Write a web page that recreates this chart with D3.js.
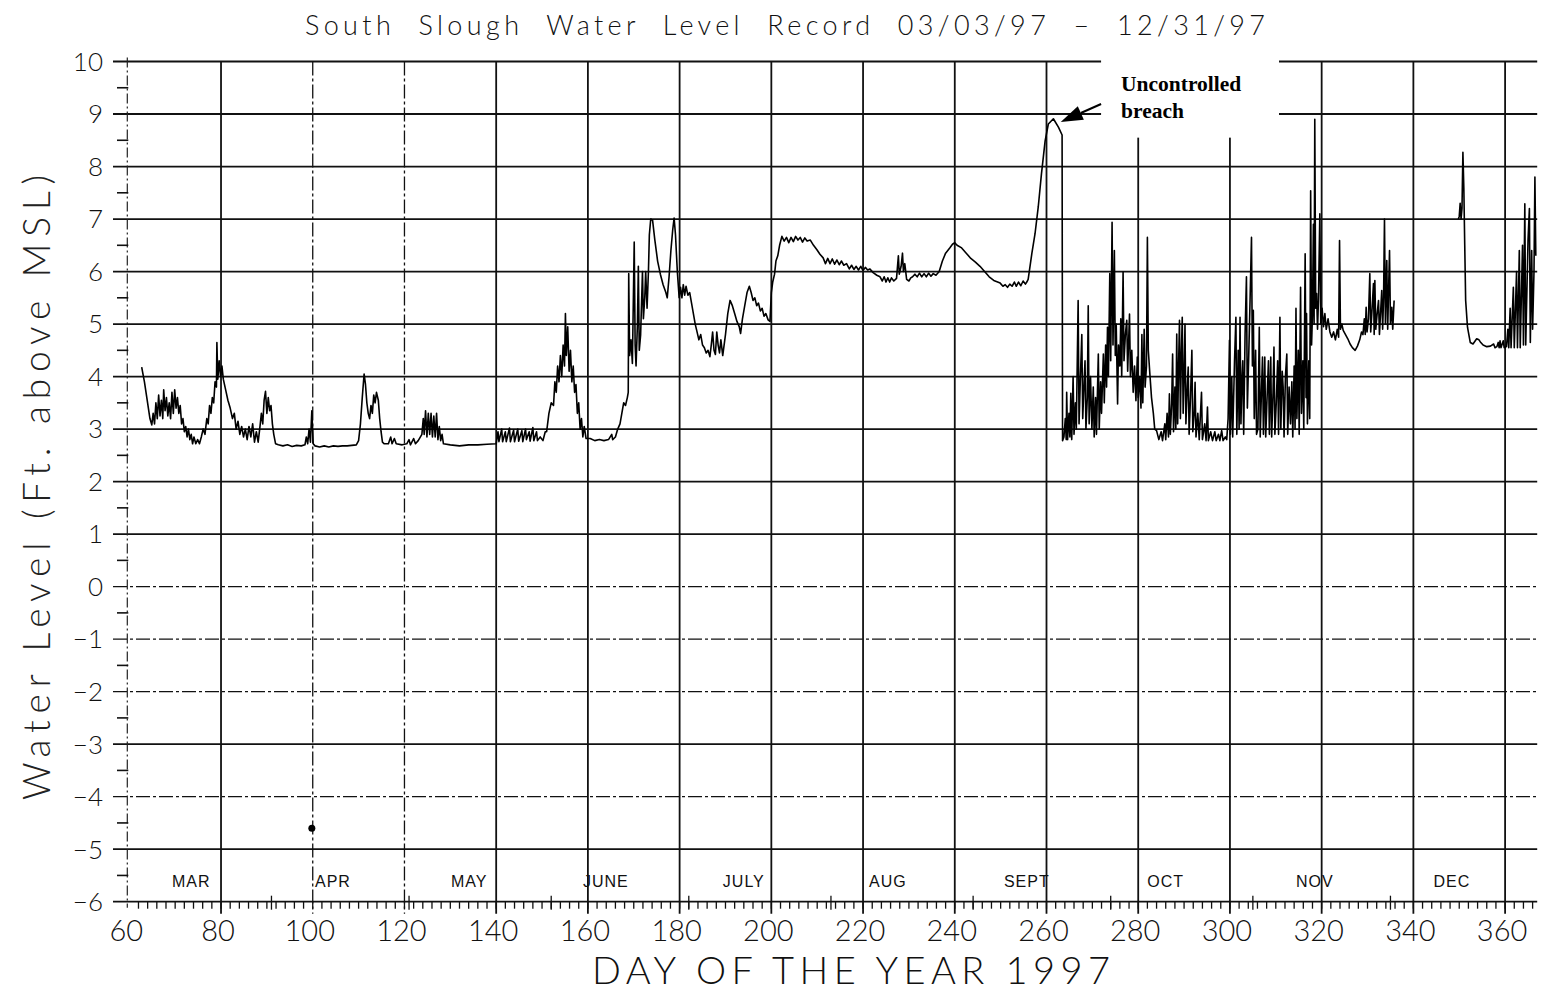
<!DOCTYPE html>
<html><head><meta charset="utf-8">
<script src="https://cdn.jsdelivr.net/npm/d3@7"></script>
<style>html,body{margin:0;padding:0;background:#fff;}svg{display:block;}</style>
</head><body>
<svg id="chart" width="1541" height="995"></svg>
<script>
// ---- DATA (day of year, water level ft above MSL) ----
const springLevels = [
[62.7,4.18],[63.3,3.9],[63.9,3.55],[64.5,3.2],[64.9,3.08],[65.2,3.3],[65.5,3.1],[65.8,3.5],[66.1,3.2],[66.4,3.65],[66.7,3.25],[67.0,3.55],[67.3,3.2],[67.5,3.75],[67.8,3.35],[68.1,3.6],[68.4,3.25],[68.7,3.5],[69.0,3.2],[69.3,3.7],[69.6,3.3],[69.9,3.75],[70.2,3.4],[70.5,3.6],[70.8,3.3],[71.1,3.45],[71.4,3.1],[71.7,3.2],[72.0,2.95],[72.3,3.05],[72.6,2.85],[72.9,3.0],[73.2,2.8],[73.5,2.9],[73.8,2.72],[74.1,2.85],[74.5,2.72],[74.9,2.8],[75.3,2.72],[75.7,2.85],[76.1,3.0],[76.5,2.9],[76.9,3.2],[77.2,3.1],[77.5,3.45],[77.8,3.3],[78.1,3.6],[78.4,3.5],[78.7,3.9],[79.0,3.8],[79.1,4.65],[79.3,3.95],[79.6,4.3],[79.9,4.0],[80.2,4.2],[80.5,3.95],
[81.0,3.75],[81.5,3.55],[82.0,3.4],[82.5,3.2],[82.9,3.3],[83.3,3.0],[83.7,3.15],[84.1,2.9],[84.5,3.05],[84.9,2.85],[85.3,3.0],[85.7,2.8],[86.1,3.05],[86.5,2.85],[86.9,3.1],[87.3,2.75],[87.7,2.95],[88.1,2.75],[88.5,3.05],[88.8,3.3],[89.1,3.1],[89.4,3.55],[89.7,3.72],[90.0,3.3],[90.3,3.6],[90.6,3.35],[90.9,3.45],[91.2,3.1],[91.5,2.9],[91.9,2.72],[92.5,2.7],
[93.5,2.68],[94.5,2.7],[95.5,2.67],[96.5,2.69],[97.5,2.68],[98.3,2.7],[98.6,2.85],[98.9,2.72],[99.2,3.0],[99.5,2.75],[99.8,3.35],[100.1,2.72],[100.5,2.68],[101.5,2.66],[102.5,2.68],[103.5,2.66],[104.5,2.68],[105.5,2.67],[106.5,2.68],[107.5,2.68],[108.5,2.69],[109.5,2.7],[110.0,2.78],[110.4,3.1],[110.8,3.6],[111.2,4.05],[111.5,3.85],[111.8,3.5],[112.1,3.3],[112.4,3.2],[112.7,3.45],[113.0,3.3],[113.3,3.65],[113.6,3.5],[113.9,3.7],[114.3,3.55],[114.6,3.2],[114.9,2.95],[115.2,2.75],[115.6,2.72],
[116.5,2.72],[117.0,2.85],[117.3,2.72],[117.8,2.82],[118.2,2.72],[119.5,2.7],[120.5,2.72],[121.0,2.8],[121.3,2.7],[122.0,2.82],[122.4,2.72],[123.0,2.78],
[123.8,2.9],[124.1,3.2],[124.3,2.9],[124.6,3.35],[124.9,2.85],[125.2,3.3],[125.5,2.9],[125.8,3.3],[126.1,2.85],[126.4,3.25],[126.7,2.85],[127.0,3.3],[127.3,2.8],[127.6,3.05],[127.9,2.78],[128.2,2.9],[128.5,2.72],
[130,2.7],[132,2.68],[134,2.7],[136,2.7],[138,2.71],[140,2.72],
[140.4,2.95],[140.6,2.76],[141.2,3.0],[141.4,2.76],[142.0,2.95],[142.2,2.76],[142.9,3.02],[143.1,2.76],[143.8,2.98],[144.0,2.76],[144.7,3.0],[144.9,2.77],[145.6,2.97],[145.8,2.76],[146.4,3.0],[146.6,2.8],[147.2,2.95],[147.4,2.77],[148.0,3.03],[148.2,2.78],[148.8,2.95],[149.0,2.78],[149.6,2.85],[150.2,2.78],[150.7,2.95]
];
const summerLevels = [
[151.0,2.95],[151.5,3.3],[152.0,3.5],[152.5,3.45],[152.8,3.9],[153.1,3.7],[153.4,4.2],[153.7,3.9],[154.0,4.4],[154.3,4.0],[154.6,4.6],[154.9,4.2],[155.1,5.2],[155.3,4.4],[155.6,4.95],[155.9,4.1],[156.2,4.5],[156.5,3.9],[156.8,4.2],[157.1,3.7],[157.4,3.85],[157.7,3.3],[158.0,3.5],[158.3,3.0],[158.6,3.2],[158.9,2.85],[159.2,3.05],[159.6,2.82],
[160.5,2.82],[161.5,2.78],[162.5,2.8],[163.5,2.78],[164.5,2.8],[165.2,2.9],[165.4,2.8],[166.0,2.85],[166.5,3.0],[167.0,3.1],[167.4,3.3],[167.8,3.5],[168.2,3.45],[168.6,3.6],
[168.8,3.7],[168.9,5.96],[169.1,4.4],[169.4,4.7],[169.7,4.25],[170.1,6.56],[170.3,4.6],[170.5,4.2],[170.8,5.0],[171.0,6.1],[171.2,4.5],[171.5,4.8],[171.9,6.0],[172.1,5.1],[172.4,5.5],[172.6,6.0],[172.9,5.3],[173.2,6.0],[173.4,6.7],[173.7,7.0],[174.1,6.98],
[174.6,6.6],[175.2,6.2],[175.8,5.95],[176.4,5.75],[177.0,5.6],[177.3,5.5],[177.7,5.9],[178.1,6.4],[178.5,6.8],[178.8,7.02],[179.1,6.7],[179.5,6.0],[179.9,5.5],
[180.2,5.7],[180.5,5.5],[180.8,5.75],[181.1,5.55],[181.4,5.72],[181.8,5.55],[182.2,5.6],[182.6,5.4],[183.0,5.2],[183.4,5.0],[183.8,4.85],[184.2,4.7],[184.6,4.8],[185.0,4.6],[185.4,4.55],[185.8,4.45],[186.2,4.5],[186.6,4.38],
[186.9,4.6],[187.2,4.85],[187.5,4.5],[187.8,4.42],[188.1,4.85],[188.4,4.6],[188.7,4.45],[189.0,4.7],[189.4,4.4],
[190.0,4.8],[190.5,5.2],[191.0,5.45],[191.5,5.35],[192.0,5.2],[192.5,5.05],[193.0,4.95],[193.3,4.82],[193.7,5.1],[194.2,5.35],[194.7,5.6],[195.2,5.72],[195.6,5.6],[196.0,5.45],[196.4,5.5],[196.8,5.35],[197.2,5.4],[197.6,5.25],[198.0,5.3],[198.4,5.15],[198.8,5.2],[199.3,5.08],[199.7,5.05],
[200.0,5.6],[200.3,5.8],[200.7,5.95],[201.0,6.2],[201.4,6.3],[201.8,6.5],[202.3,6.67],
[202.8,6.58],[203.3,6.65],[203.8,6.55],[204.3,6.65],[204.8,6.57],[205.3,6.67],[205.8,6.6],[206.3,6.65],[206.8,6.56],[207.3,6.64],[207.8,6.58],[208.5,6.6],
[209.2,6.5],[209.9,6.42],[210.6,6.33],[211.3,6.26],
[211.8,6.15],[212.3,6.25],[212.8,6.15],[213.3,6.24],[213.8,6.14],[214.3,6.22],[214.8,6.13],[215.3,6.2],[215.8,6.12],[216.4,6.15],
[217.0,6.05],[217.5,6.12],[218.0,6.04],[218.5,6.1],[219.0,6.03],[219.5,6.1],[220.0,6.02],[220.5,6.08],[221.0,6.03],[221.5,6.05],
[222.2,5.98],[223.0,5.93],[223.7,5.9],
[224.2,5.82],[224.6,5.9],[225.0,5.8],[225.4,5.88],[225.8,5.8],[226.2,5.88],[226.7,5.82],[227.3,5.87],
[227.7,6.3],[227.9,5.95],[228.3,6.1],[228.6,6.35],[228.8,6.0],[229.1,6.15],[229.5,5.85],
[230,5.82],[230.4,5.88],[230.8,5.9],[231.3,5.95],[231.8,5.9],[232.3,5.97],[232.8,5.9],[233.3,5.96],[233.8,5.9],[234.3,5.97],[234.8,5.91],[235.3,5.96],[235.9,5.93],
[236.6,6.0],[237.3,6.2],[238.0,6.35],[238.9,6.45],[239.5,6.52],[240.0,6.55],[240.5,6.5],
[241.5,6.45],[242.5,6.35],[243.5,6.25],[244.5,6.18],[245.5,6.1],[246.5,6.0],[247.5,5.9],[248.5,5.83],[249.9,5.78],
[250.5,5.72],[251.0,5.75],[251.5,5.7],[252.0,5.76],[252.5,5.72],[253.0,5.8],[253.4,5.72],[253.9,5.8],[254.4,5.73],[254.9,5.82],[255.4,5.76],[255.7,5.8],
[256.0,5.85],[256.8,6.34],[257.5,6.72],[258.2,7.23],[258.9,7.86],[259.7,8.49],[260.4,8.81],[261.5,8.91],[262.6,8.75],[263.3,8.62]
];
const breachLevels = [
[263.4,8.6],[263.5,2.78],[263.8,2.85],[264.1,3.2],[264.3,2.8],[264.4,3.7],[264.6,2.8],[264.9,3.3],[265.1,2.85],[265.3,3.68],[265.5,2.8],[265.8,4.0],[266.0,2.9],[266.3,3.5],[266.5,3.0],[266.9,5.45],[267.1,3.1],[267.4,4.0],[267.7,4.8],[267.9,3.2],[268.2,3.9],[268.4,4.3],[268.6,3.0],[268.9,3.6],[269.1,5.35],[269.3,3.1],[269.6,4.0],[269.9,3.0],[270.2,3.8],[270.4,2.85],[270.7,3.6],[270.9,2.9],[271.3,4.43],[271.5,3.0],[271.8,3.9],[272.0,3.3],[272.4,4.43],[272.6,3.5],[272.9,4.6],[273.1,3.8],[273.3,4.94],[273.5,4.0],[273.8,5.96],[274.0,4.3],[274.3,6.94],[274.5,4.6],[274.8,6.4],[275.0,4.4],[275.2,5.0],[275.5,3.48],[275.7,4.6],[276.0,4.2],[276.2,5.1],[276.4,4.0],[276.7,5.99],[276.9,4.3],[277.2,4.8],[277.5,5.07],[277.7,4.1],[278.1,5.19],[278.3,4.0],[278.6,4.5],[278.9,3.7],[279.2,4.2],[279.5,3.54],[279.8,4.37],[280.0,3.6],[280.3,4.0],[280.6,3.4],[280.8,4.8],[281.0,3.5],[281.3,4.9],[281.5,3.8],[281.8,4.2],[282.0,6.65],[282.2,4.5],[282.5,4.1],[282.9,3.6],[283.3,3.3],[283.6,3.0],[284.0,2.97],
[284.5,2.8],[285.0,2.95],[285.3,2.78],[285.8,3.1],[286.0,2.8],[286.3,3.3],[286.6,2.85],[286.8,3.67],[287.0,2.9],[287.3,3.5],[287.5,4.43],[287.7,2.95],[288.0,3.8],[288.2,3.0],[288.4,4.81],[288.6,3.1],[288.8,4.2],[289.0,5.07],[289.2,3.2],[289.4,4.4],[289.6,5.13],[289.8,3.3],[290.0,4.0],[290.2,5.0],[290.4,3.1],[290.7,3.8],[290.9,4.18],[291.1,2.9],[291.4,3.6],[291.7,4.5],[291.9,2.95],[292.2,3.3],[292.4,3.89],[292.6,2.85],[293.0,3.3],[293.3,2.8],[293.8,3.7],[294.0,2.8],[294.5,3.1],[294.8,2.78],[295.1,3.42],[295.3,2.78],[295.8,2.95],[296.2,2.78],[296.7,2.95],[297.0,2.78],[297.5,2.9],[297.8,2.78],[298.2,2.97],[298.5,2.78],[299.0,2.85],[299.3,2.8],
[299.6,3.2],[299.9,4.69],[300.1,2.9],[300.4,3.99],[300.6,2.85],[301.0,4.3],[301.3,5.13],[301.5,2.9],[301.8,4.5],[302.0,3.0],[302.2,5.13],[302.4,3.1],[302.6,3.9],[302.8,4.3],[303.0,2.9],[303.3,4.8],[303.6,5.9],[303.8,3.4],[304.1,4.4],[304.4,5.5],[304.7,6.65],[304.9,4.2],[305.1,5.26],[305.3,3.2],[305.6,4.5],[305.8,2.9],
[306.1,3.0],[306.4,4.94],[306.6,2.85],[306.9,3.8],[307.1,4.37],[307.3,2.9],[307.6,4.37],[307.8,2.85],[308.1,3.6],[308.4,4.3],[308.6,2.9],[308.9,4.37],[309.1,2.85],[309.4,3.7],[309.6,4.56],[309.8,2.9],[310.1,3.5],[310.4,4.3],[310.6,2.9],[310.9,5.13],[311.1,3.0],[311.4,4.1],[311.6,3.8],[311.8,2.85],[312.1,4.0],[312.4,4.43],[312.6,2.9],[312.9,3.8],[313.2,3.1],[313.5,3.9],[313.7,2.85],[314.0,4.2],[314.2,3.0],[314.4,5.3],[314.6,3.2],[314.9,4.5],[315.1,2.9],[315.4,5.7],[315.6,3.3],[315.9,4.3],[316.1,3.0],[316.4,6.34],[316.6,3.6],[316.7,5.2],[316.9,3.1],[317.2,4.3],[317.4,3.2],[317.6,7.54],[317.8,4.6],[318.0,5.2],[318.2,6.9],[318.35,5.0],[318.5,8.9],[318.7,5.3],[318.9,5.58],[319.1,4.9],[319.3,5.45],[319.6,7.1],[319.8,5.0],[320.1,5.3],[320.4,4.95],[320.7,5.2],[321.0,4.9],[321.4,5.1],[321.8,4.85],
[322.2,4.75],[322.6,4.85],[323.0,4.7],[323.4,4.9],[323.7,4.75],[323.9,6.59],[324.1,4.9],[324.4,5.0],[324.7,4.88],[325.2,4.8],[325.7,4.72],[326.2,4.62],[326.7,4.55],[327.3,4.5],[327.8,4.58],[328.3,4.7],[328.7,4.85],[329.0,4.8],[329.3,5.1],[329.5,4.8],[329.7,5.32],[329.9,4.85],[330.2,5.1],[330.5,5.96],[330.7,4.85],[331.0,5.3],[331.3,5.77],[331.45,4.8],[331.6,5.83],[331.8,4.9],[332.1,5.2],[332.4,5.45],[332.6,4.8],[332.9,5.3],[333.1,5.64],[333.3,4.9],[333.5,5.5],[333.7,7.0],[333.9,5.0],[334.2,6.21],[334.4,4.9],[334.8,6.4],[335.0,5.0],[335.3,5.32],[335.5,4.9],[335.8,5.45]
];
const decemberLevels = [
[349.8,7.0],[350.0,7.05],[350.2,7.3],[350.4,7.0],[350.6,7.2],[350.8,8.27],[351.0,7.6],[351.2,6.5],[351.4,5.45],[351.8,4.94],[352.4,4.65],[353.0,4.62],[353.8,4.72],[354.3,4.7],[354.6,4.66],[355.2,4.6],[356.0,4.57],[356.8,4.58],[357.5,4.62],[357.8,4.55],[358.2,4.57],[358.5,4.65],[358.7,4.55],[358.9,4.68],[359.1,4.55],[359.6,4.68],[359.8,4.55],[360.3,4.57],[360.6,4.9],[360.8,4.55],[361.1,5.3],[361.3,4.55],[361.8,5.7],[362.0,4.55],[362.5,6.0],[362.7,4.55],[363.1,6.4],[363.3,4.55],[363.8,6.5],[364.0,4.6],[364.3,7.29],[364.5,4.6],[365.0,6.6],[365.3,7.2],[365.5,4.65],[365.8,6.4],[366.0,4.9],[366.3,6.0],[366.5,7.8],[366.7,6.3]
];
const strayReadings = [[99.8,-4.6]];

const dayTicks = [60,80,100,120,140,160,180,200,220,240,260,280,300,320,340,360];
const levelTicks = [10,9,8,7,6,5,4,3,2,1,0,-1,-2,-3,-4,-5,-6];
const monthNames = ["MAR","APR","MAY","JUNE","JULY","AUG","SEPT","OCT","NOV","DEC"];
const monthLabelDays = [73.5,104.4,134.1,163.9,194.0,225.4,255.7,286.0,318.5,348.4];
const monthStartDays = [91,121,152,182,213,244,274,305,335];

const titleText = "South  Slough  Water  Level  Record  03/03/97  \u2013  12/31/97";
const xTitle = "DAY OF THE YEAR 1997";
const yTitle = "Water Level (Ft. above MSL)";
const noteLines = ["Uncontrolled","breach"];

// ---- DRAWING ----
const svg = d3.select("#chart");
const x = d3.scaleLinear().domain([60,367]).range([129.3,1537.2]);
const y = d3.scaleLinear().domain([-6,10]).range([901.7,61.5]);
const lightFont = "Lato, 'Open Sans', 'DejaVu Sans', sans-serif";
const dashedLevels = new Set([0,-1,-2,-4]);
const dashedDays = new Set([100,120]);

svg.append("rect").attr("width",1541).attr("height",995).attr("fill","#fff");

// horizontal gridlines
svg.append("g").selectAll("line").data(levelTicks).join("line")
  .attr("x1",113).attr("x2",x(367))
  .attr("y1",d=>y(d)).attr("y2",d=>y(d))
  .attr("stroke","#111")
  .attr("stroke-width",d=>dashedLevels.has(d)?1.2:1.8)
  .attr("stroke-dasharray",d=>dashedLevels.has(d)?"14,3,3,3":null);

// vertical gridlines
svg.append("g").selectAll("line").data(dayTicks.slice(1)).join("line")
  .attr("x1",d=>x(d)).attr("x2",d=>x(d))
  .attr("y1",y(10)).attr("y2",y(-6)+12)
  .attr("stroke","#111")
  .attr("stroke-width",d=>dashedDays.has(d)?1.3:1.8)
  .attr("stroke-dasharray",d=>dashedDays.has(d)?"14,3,3,3":null);

// left axis (dash-dot)
svg.append("line").attr("x1",x(60)-2).attr("x2",x(60)-2)
  .attr("y1",y(10)-4).attr("y2",y(-6)+6)
  .attr("stroke","#222").attr("stroke-width",1.2).attr("stroke-dasharray","10,3,2,3");

// minor y ticks at half units
svg.append("g").selectAll("line").data(d3.range(-5.5,10,1)).join("line")
  .attr("x1",117).attr("x2",x(60)-1)
  .attr("y1",d=>y(d)).attr("y2",d=>y(d))
  .attr("stroke","#111").attr("stroke-width",1.6);

// minor x ticks every 2 days
svg.append("g").selectAll("line").data(d3.range(62,367,2)).join("line")
  .attr("x1",d=>x(d)).attr("x2",d=>x(d))
  .attr("y1",y(-6)).attr("y2",y(-6)+7)
  .attr("stroke","#111").attr("stroke-width",1.3);
// month-start ticks
svg.append("g").selectAll("line").data(monthStartDays).join("line")
  .attr("x1",d=>x(d)).attr("x2",d=>x(d))
  .attr("y1",y(-6)-6).attr("y2",y(-6)+8)
  .attr("stroke","#111").attr("stroke-width",1.3);

// data line
const line = d3.line().x(d=>x(d[0])).y(d=>y(d[1]));
svg.append("path").datum(springLevels.concat(summerLevels, breachLevels))
  .attr("d",line).attr("fill","none").attr("stroke","#000")
  .attr("stroke-width",1.6).attr("stroke-linejoin","round");
svg.append("path").datum(decemberLevels)
  .attr("d",line).attr("fill","none").attr("stroke","#000")
  .attr("stroke-width",1.6).attr("stroke-linejoin","round");
svg.append("g").selectAll("circle").data(strayReadings).join("circle")
  .attr("cx",d=>x(d[0])).attr("cy",d=>y(d[1])).attr("r",3.5).attr("fill","#000");

// annotation box (masks grid behind label)
const boxX0 = x(271.9), boxX1 = x(310.7);
svg.append("rect").attr("x",boxX0).attr("y",y(10)-6)
  .attr("width",boxX1-boxX0).attr("height",y(8.55)-(y(10)-6)).attr("fill","#fff");
const note = svg.append("text").attr("font-family","'Liberation Serif','Times New Roman',serif")
  .attr("font-weight","bold").attr("font-size",21.5).attr("fill","#000");
note.selectAll("tspan").data(noteLines).join("tspan")
  .attr("x",boxX0+20).attr("y",(d,i)=>y(9.43)+i*27).text(d=>d);
// arrow
const tip=[x(263.1),y(8.85)], tail=[x(271.9),y(9.19)];
const ux=(tip[0]-tail[0]), uy=(tip[1]-tail[1]); const L=Math.hypot(ux,uy);
const ex=ux/L, ey=uy/L, px=-ey, py=ex, hl=22, hw=7.5;
const bx=tip[0]-ex*hl, by=tip[1]-ey*hl;
svg.append("line").attr("x1",tail[0]).attr("y1",tail[1]).attr("x2",bx).attr("y2",by)
  .attr("stroke","#000").attr("stroke-width",2);
svg.append("path").attr("d",`M${tip[0]},${tip[1]}L${bx+px*hw},${by+py*hw}L${bx-px*hw},${by-py*hw}Z`).attr("fill","#000");

// y tick labels
svg.append("g").selectAll("text").data(levelTicks).join("text")
  .attr("x",103).attr("y",d=>y(d)).attr("dy","0.36em")
  .attr("text-anchor","end").attr("font-family",lightFont).attr("font-weight",300)
  .attr("font-size",26).attr("fill","#111")
  .text(d=>d<0?"\u2212"+(-d):String(d));

// x tick labels
svg.append("g").selectAll("text").data(dayTicks).join("text")
  .attr("x",d=>x(d)-3).attr("y",941)
  .attr("text-anchor","middle").attr("font-family",lightFont).attr("font-weight",300)
  .attr("font-size",29).attr("fill","#111").text(d=>d);

// month labels
svg.append("g").selectAll("text").data(monthNames).join("text")
  .attr("x",(d,i)=>x(monthLabelDays[i])).attr("y",887)
  .attr("text-anchor","middle").attr("font-family","'Liberation Sans',Arial,sans-serif")
  .attr("font-size",16).attr("letter-spacing",1).attr("fill","#111").text(d=>d);

// title
svg.append("text").attr("x",305).attr("y",35).style("white-space","pre")
  .attr("textLength",960).attr("lengthAdjust","spacing")
  .attr("font-family",lightFont).attr("font-weight",300).attr("font-size",27)
  .attr("fill","#111").text(titleText);

// x axis title
svg.append("text").attr("x",592).attr("y",984)
  .attr("textLength",518).attr("lengthAdjust","spacing")
  .attr("font-family",lightFont).attr("font-weight",300).attr("font-size",38)
  .attr("fill","#111").text(xTitle);

// y axis title
svg.append("text").attr("transform","translate(50,800) rotate(-90)")
  .attr("x",0).attr("y",0)
  .attr("textLength",625).attr("lengthAdjust","spacing")
  .attr("font-family",lightFont).attr("font-weight",300).attr("font-size",37)
  .attr("fill","#222").text(yTitle);
</script>
</body></html>
